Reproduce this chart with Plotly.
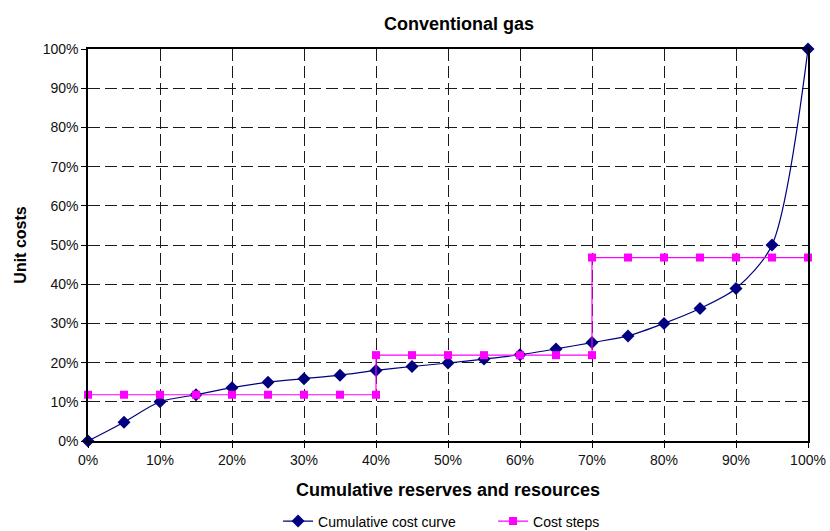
import plotly.graph_objects as go

# Cumulative share of reserves and resources (fraction)
curve_x = [0.00, 0.05, 0.10, 0.15, 0.20, 0.25, 0.30, 0.35, 0.40, 0.45, 0.50,
           0.55, 0.60, 0.65, 0.70, 0.75, 0.80, 0.85, 0.90, 0.95, 1.00]
# Unit cost along the cumulative cost curve
curve_y = [0.000, 0.048, 0.100, 0.118, 0.136, 0.150, 0.159, 0.168, 0.180, 0.190, 0.199,
           0.209, 0.220, 0.235, 0.251, 0.268, 0.300, 0.338, 0.389, 0.500, 1.000]

# Step approximation of the cost curve (vertical jumps at 40% and 70%)
steps_x = [0.00, 0.05, 0.10, 0.15, 0.20, 0.25, 0.30, 0.35, 0.40,
           0.40, 0.45, 0.50, 0.55, 0.60, 0.65, 0.70,
           0.70, 0.75, 0.80, 0.85, 0.90, 0.95, 1.00]
steps_y = [0.118] * 9 + [0.219] * 7 + [0.468] * 7

tick_vals = [i / 10 for i in range(11)]
tick_text = [f"{i * 10}%" for i in range(11)]

FONT = "Liberation Sans, Arial, sans-serif"

fig = go.Figure()
fig.add_trace(go.Scatter(
    x=curve_x, y=curve_y, name="Cumulative cost curve",
    mode="lines+markers",
    line=dict(color="#000080", width=1.2, shape="spline", smoothing=0.8),
    marker=dict(symbol="diamond", size=10, color="#000080"),
    cliponaxis=False,
))
fig.add_trace(go.Scatter(
    x=steps_x, y=steps_y, name="Cost steps",
    mode="lines+markers",
    line=dict(color="#FF00FF", width=1.2),
    marker=dict(symbol="square", size=8, color="#FF00FF"),
    cliponaxis=False,
))

axis_common = dict(
    range=[0, 1], tickvals=tick_vals, ticktext=tick_text,
    showline=True, linecolor="black", linewidth=1.5, mirror=True,
    showgrid=True, gridcolor="#1a1a1a", gridwidth=1, griddash="12px,5px",
    ticks="outside", ticklen=5, tickcolor="black",
    zeroline=False, automargin=False,
    tickfont=dict(family=FONT, size=14, color="#111111"),
)

fig.update_layout(
    width=830, height=531,
    margin=dict(l=88, r=22, t=49, b=90),
    paper_bgcolor="white", plot_bgcolor="white",
    title=dict(text="Conventional gas", x=0.553, xanchor="center", y=0.955, yanchor="middle",
               font=dict(family=FONT, size=18, color="black", weight="bold")),
    xaxis=dict(axis_common,
               title=dict(text="Cumulative reserves and resources", standoff=17,
                          font=dict(family=FONT, size=18, color="black", weight="bold"))),
    yaxis=dict(axis_common,
               title=dict(text="Unit costs", standoff=12,
                          font=dict(family=FONT, size=16, color="black", weight="bold"))),
    legend=dict(orientation="h", xref="container", x=0.335, xanchor="left",
                yref="container", y=0.018, yanchor="middle",
                font=dict(family=FONT, size=14, color="black"),
                itemwidth=30, entrywidth=170, entrywidthmode="pixels"),
    showlegend=True,
)

fig.write_html("out.html")
